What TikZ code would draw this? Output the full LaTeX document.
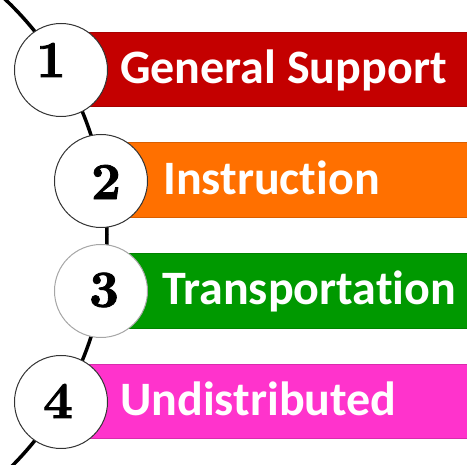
\documentclass[tikz,border=0pt]{standalone}
\usepackage{fontspec}
\usepackage{tikz}
\newfontfamily\barfont{Carlito}[Ligatures={NoCommon}]
\newfontfamily\digitfont{lmroman10-bold.otf}[FakeBold=1.6]

\definecolor{barred}{RGB}{196,0,0}
\definecolor{barorange}{RGB}{255,112,0}
\definecolor{bargreen}{RGB}{0,153,0}
\definecolor{barpink}{RGB}{255,51,204}

\begin{document}
\begin{tikzpicture}[x=1pt,y=-1pt,
		bar/.style={line width=1pt},
		ring/.style={circle,draw=black!80,line width=1pt,fill=white,minimum size=93pt,inner sep=0pt},
		digit/.style={font=\digitfont\fontsize{52}{52}\selectfont,inner sep=0pt},
		label/.style={anchor=base west,inner sep=0pt,text=white,font=\barfont\fontsize{48}{48}\selectfont\bfseries}]
						% Fix the size of the picture
						\useasboundingbox (0,0) rectangle (467,465);
						
						% Draw the colour bars
						\draw[bar,fill=barred,draw=barred!85!black] (80,33) rectangle (468,107);
						\draw[bar,fill=barorange,draw=barorange!85!black] (110,143) rectangle (468,218);
						\draw[bar,fill=bargreen,draw=bargreen!85!black] (110,254) rectangle (468,329);
						\draw[bar,fill=barpink,draw=barpink!85!black] (80,365) rectangle (468,439);
						
						% Draw the curved line behind the circles
						\coordinate (top) at ({-219+326*cos(47)},{236-326*sin(47)});
						\draw[line width=3.5pt] (top) arc[start angle=-47,end angle=47,radius=326];
						
						% Draw the circles
						\node[ring] (c1) at (61,70) {};
						\node[ring] (c2) at (101,181) {};
						\node[ring,draw=black!35] (c3) at (101,291) {};
						\node[ring] (c4) at (61,402) {};
						
						% Put the numbers in the circles
						\node[digit] (d1) at (51,60) {1};
						\node[digit] (d2) at (106,182) {2};
						\node[digit] (d3) at (104,290) {3};
						\node[digit] (d4) at (58,401) {4};
						
						% Write the texts on the bars
						\node[label] (t1) at (120,84) {General Support};
						\node[label] (t2) at (163,195) {Instruction};
						\node[label] (t3) at (162,305) {Transportation};
						\node[label] (t4) at (120,416) {Undistributed};
					\end{tikzpicture}
\end{document}
